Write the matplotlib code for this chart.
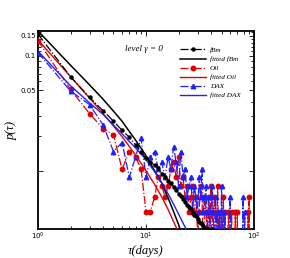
import matplotlib
matplotlib.use("Agg")
import matplotlib.pyplot as plt
from matplotlib.ticker import FixedLocator, FixedFormatter, NullFormatter, LogLocator

# ---------------- data ----------------
tau_fbm = list(range(1, 48))
p_fbm = [0.155, 0.066, 0.0435, 0.0334, 0.027, 0.0225, 0.0196, 0.0168, 0.0146, 0.0128,
         0.0118, 0.0112, 0.0105, 0.0094, 0.0089, 0.0082, 0.0078, 0.0072, 0.0068, 0.0063,
         0.0060, 0.0057, 0.0053, 0.0050, 0.0048, 0.0046, 0.0043, 0.0041, 0.0040, 0.0038,
         0.0036, 0.0035, 0.0034, 0.0033, 0.0031, 0.0032, 0.0030, 0.0031, 0.0029, 0.0030,
         0.0031, 0.0029, 0.0030, 0.0028, 0.0030, 0.0027, 0.0025]

tau_fit_fbm = [1, 2, 3, 4, 5, 6, 7, 8, 10, 12, 14, 16, 18, 20, 22]
p_fit_fbm = [0.165, 0.083, 0.056, 0.042, 0.033, 0.027, 0.022, 0.0185, 0.0135, 0.0100,
             0.0078, 0.0058, 0.0044, 0.0034, 0.0026]

tau_oil = list(range(1, 93))
p_oil = [0.136, 0.051, 0.0315, 0.0233, 0.0206, 0.0103, 0.0147, 0.0132, 0.0103, 0.0044,
         0.0044, 0.0059, 0.0088, 0.0074, 0.0059, 0.0074, 0.0103, 0.0118, 0.0088, 0.0132,
         0.0074, 0.0088, 0.0059, 0.0074, 0.0044, 0.0059, 0.0074, 0.0044, 0.0059, 0.0029,
         0.0044, 0.0074, 0.0059, 0.0015, 0.0059, 0.0044, 0.0015, 0.0059, 0.0029, 0.0074,
         0.0044, 0.0015, 0.0059, 0.0044, 0.0015, 0.0074, 0.0029, 0.0044, 0.0015, 0.0044,
         0.0015, 0.0059, 0.0015, 0.0044, 0.0015, 0.0015, 0.0029, 0.0044, 0.0015, 0.0015,
         0.0015, 0.0044, 0.0015, 0.0015, 0.0015, 0.0015, 0.0044, 0.0015, 0.0015, 0.0044,
         0.0015, 0.0015, 0.0015, 0.0015, 0.0015, 0.0015, 0.0015, 0.0015, 0.0015, 0.0015,
         0.0015, 0.0015, 0.0015, 0.0015, 0.0015, 0.0015, 0.0015, 0.0044, 0.0015, 0.0059,
         0.0015, 0.0015]

tau_fit_oil = [1, 2, 3, 4, 5, 6, 7, 8, 10, 12, 14, 16, 18, 20, 22]
p_fit_oil = [0.138, 0.066, 0.043, 0.0315, 0.0245, 0.0198, 0.0163, 0.0137, 0.0100, 0.0076,
             0.0059, 0.0046, 0.0036, 0.0029, 0.0023]

tau_dax = list(range(1, 86))
p_dax = [0.107, 0.0494, 0.0377, 0.0251, 0.0147, 0.0176, 0.0088, 0.0132, 0.0191, 0.0088,
         0.0132, 0.0147, 0.0103, 0.0118, 0.0088, 0.0132, 0.0103, 0.0162, 0.0118, 0.0074,
         0.0147, 0.0088, 0.0103, 0.0059, 0.0074, 0.0088, 0.0044, 0.0074, 0.0059, 0.0044,
         0.0088, 0.0059, 0.0103, 0.0044, 0.0059, 0.0074, 0.0029, 0.0059, 0.0044, 0.0015,
         0.0074, 0.0044, 0.0015, 0.0059, 0.0029, 0.0044, 0.0015, 0.0044, 0.0015, 0.0074,
         0.0029, 0.0015, 0.0044, 0.0015, 0.0015, 0.0029, 0.0015, 0.0015, 0.0015, 0.0059,
         0.0015, 0.0015, 0.0015, 0.0015, 0.0015, 0.0015, 0.0015, 0.0015, 0.0015, 0.0015,
         0.0015, 0.0015, 0.0015, 0.0015, 0.0015, 0.0015, 0.0015, 0.0015, 0.0059, 0.0015,
         0.0015, 0.0044, 0.0015, 0.0015, 0.0015]

tau_fit_dax = [1, 2, 3, 4, 5, 6, 7, 8, 10, 12, 14, 16, 18, 20, 22, 24, 26]
p_fit_dax = [0.110, 0.055, 0.039, 0.031, 0.025, 0.021, 0.018, 0.0158, 0.0125, 0.0098,
             0.0078, 0.0063, 0.0051, 0.0042, 0.0035, 0.0030, 0.0025]

ytick_major = [0.01, 0.05, 0.1, 0.15]
ytick_labels = ["", "0.05", "0.1", "0.15"]
ytick_minor = [0.02, 0.03, 0.04, 0.06, 0.07, 0.08, 0.09, 0.11, 0.12, 0.13, 0.14, 0.16]

# ---------------- figure ----------------
fig = plt.figure(figsize=(2.9, 2.58), dpi=100)
ax = fig.add_axes([0.131, 0.112, 0.745, 0.768])

serif = "Liberation Serif"

ax.plot(tau_fbm, p_fbm, color="black", ls="-.", lw=0.9, marker="o", ms=2.2,
        label="fBm", zorder=5)
ax.plot(tau_fit_fbm, p_fit_fbm, color="black", ls="-", lw=1.1, label="fitted fBm", zorder=4)
ax.plot(tau_oil, p_oil, color="#e00000", ls="-.", lw=0.9, marker="o", ms=3.2,
        label="Oil", zorder=3)
ax.plot(tau_fit_oil, p_fit_oil, color="#e00000", ls="-", lw=1.0, label="fitted Oil", zorder=4)
ax.plot(tau_dax, p_dax, color="#2020ff", ls="-.", lw=0.9, marker="^", ms=3.2,
        label="DAX", zorder=3)
ax.plot(tau_fit_dax, p_fit_dax, color="#2020ff", ls="-", lw=1.0, label="fitted DAX", zorder=4)

ax.set_xscale("log")
ax.set_yscale("log")
ax.set_xlim(1, 100)
ax.set_ylim(0.0031, 0.165)

ax.xaxis.set_major_locator(FixedLocator([1, 10, 100]))
ax.xaxis.set_major_formatter(FixedFormatter([r"$10^0$", r"$10^1$", r"$10^2$"]))
ax.xaxis.set_minor_locator(LogLocator(base=10, subs=range(2, 10)))
ax.xaxis.set_minor_formatter(NullFormatter())
ax.yaxis.set_major_locator(FixedLocator(ytick_major))
ax.yaxis.set_major_formatter(FixedFormatter(ytick_labels))
ax.yaxis.set_minor_locator(FixedLocator(ytick_minor))
ax.yaxis.set_minor_formatter(NullFormatter())

ax.tick_params(which="both", direction="in", top=True, right=True, labelsize=5, pad=1.5,
               width=0.6)
ax.tick_params(which="major", length=3.5)
ax.tick_params(which="minor", length=2)
for s in ax.spines.values():
    s.set_linewidth(1.3)

ax.set_xlabel("τ(days)", fontsize=9, family=serif, style="italic", labelpad=2)
ax.set_ylabel("p(τ)", fontsize=9, family=serif, style="italic", labelpad=2)

ax.text(0.49, 0.909, "level γ = 0", transform=ax.transAxes, fontsize=6.5,
        family=serif, style="italic", ha="center", va="center")

leg = ax.legend(loc="upper left", bbox_to_anchor=(0.635, 0.945), frameon=False,
                prop={"family": serif, "style": "italic", "size": 5.2},
                handlelength=3.6, handletextpad=0.5, labelspacing=0.42, borderpad=0.2)

fig.savefig("out.png", dpi=100)
